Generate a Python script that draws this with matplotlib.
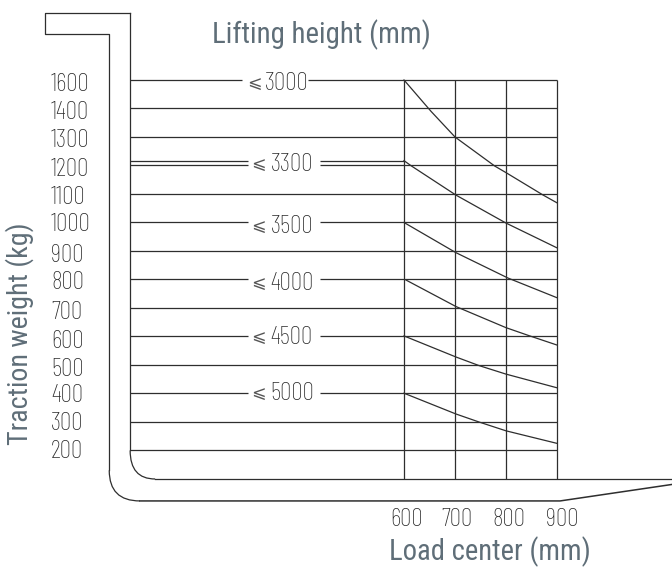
import numpy as np
import matplotlib
matplotlib.use('Agg')
import matplotlib.pyplot as plt
from matplotlib.path import Path
from matplotlib.patches import PathPatch

# weight levels are evenly spaced on the drawing, though the kg values are not
weights = [200, 300, 400, 500, 600, 700, 800, 900, 1000, 1100, 1200, 1300, 1400, 1600]
levels = np.arange(len(weights))
load_centers = [600, 700, 800, 900]

# capacity curves, lifting height -> load center / kg
curve_heights = ['3000', '3300', '3500', '4000', '4500', '5000']
curve_x = {
    '3000': [600, 653, 700, 778, 800, 873, 900],
    '3300': [600, 614, 702, 800, 900],
    '3500': [600, 702, 804, 900],
    '4000': [604, 702, 800, 845, 900],
    '4500': [600, 702, 747, 800, 900],
    '5000': [600, 702, 747, 800, 900],
}
curve_kg = {
    '3000': [1600, 1390, 1300, 1198, 1175, 1096, 1069],
    '3300': [1217, 1199, 1096, 998, 911],
    '3500': [1000, 894, 805, 736],
    '4000': [798, 705, 631, 603, 570],
    '4500': [602, 528, 498, 468, 420],
    '5000': [401, 328, 300, 269, 225],
}
# kg line each height label sits on, and the break in that line (mm)
label_kg = [1600, 1217, 1000, 800, 600, 400]
label_gap = [(282, 412), (294, 435), (294, 435), (294, 435), (294, 435), (294, 435)]

# fork outline, x in mm, y in levels
fork_outer_x = [63, -104, -104, 22, 22]
fork_outer_y = [15.35, 15.35, 14.61, 14.61, -0.70]
outer_arc_x = [22, 22, 82]
outer_arc_y = [-0.70, -1.77, -1.77]
fork_bottom_x = [82, 906, 1126]
fork_bottom_y = [-1.77, -1.77, -1.19]
inner_x = [63, 63]
inner_y = [15.35, 0.0]
inner_arc_x = [63, 63, 112]
inner_arc_y = [0.0, -1.0, -1.0]
fork_top_x = [112, 1126]
fork_top_y = [-1.0, -1.0]

LINE = '#2e2e2e'
TITLE = '#5f6e78'
LABEL = '#2a2a2a'
TITLE_FONT = ['Roboto Condensed', 'Liberation Sans', 'DejaVu Sans']
CAD_FONT = ['Barlow Condensed', 'Liberation Sans', 'DejaVu Sans']
# the hand placed labels on the drawing do not sit quite on their lines
weight_nudge = [0, 0, 1, 3, 4, 3, 2, 3, 1, 2, 3, 2, 3, 3.7]
height_nudge = [4, 4, 4, 4, 1, 0]
center_nudge = [-1, -1, 0, 2]
PX_X = 1 / 0.51
PX_Y = 1 / 28.5


def lvl(kg):
    return np.interp(kg, weights, levels)


fig = plt.figure(figsize=(6.72, 5.67), dpi=100)
ax = fig.add_axes([0, 0, 1, 1])
ax.set_xlim(-192.2, 1125.5)
ax.set_ylim(-4.088, 15.807)
ax.axis('off')

# load center verticals
ax.vlines(load_centers, -1.0, lvl(1600), color=LINE, lw=0.9)

# weight lines, broken where a height label sits
gap_by_kg = dict(zip(label_kg, label_gap))
gap_by_kg[1200] = gap_by_kg[1217]
for kg in weights:
    if kg in gap_by_kg:
        ax.hlines(lvl(kg), 63, gap_by_kg[kg][0], color=LINE, lw=0.9)
        ax.hlines(lvl(kg), gap_by_kg[kg][1], 900, color=LINE, lw=0.9)
    else:
        ax.hlines(lvl(kg), 63, 900, color=LINE, lw=0.9)
# the 3300 line stops at the 600 mm vertical
ax.hlines(lvl(1217), 63, gap_by_kg[1217][0], color=LINE, lw=0.9)
ax.hlines(lvl(1217), gap_by_kg[1217][1], 600, color=LINE, lw=0.9)

for h in curve_heights:
    ax.plot(curve_x[h], lvl(curve_kg[h]), color=LINE, lw=0.9)

# fork
ax.plot(fork_outer_x, fork_outer_y, color=LINE, lw=0.9)
ax.plot(inner_x, inner_y, color=LINE, lw=0.9)
ax.plot(fork_bottom_x, fork_bottom_y, color=LINE, lw=1.1)
ax.plot(fork_top_x, fork_top_y, color=LINE, lw=0.9)
for arc_x, arc_y in [(outer_arc_x, outer_arc_y), (inner_arc_x, inner_arc_y)]:
    arc = Path(np.column_stack([arc_x, arc_y]), [Path.MOVETO, Path.CURVE3, Path.CURVE3])
    ax.add_patch(PathPatch(arc, fc='none', ec=LINE, lw=0.9))

# labels
for kg, n in zip(weights, weight_nudge):
    ax.text(-92, lvl(kg) - 0.04 - n * PX_Y, str(kg), ha='left', va='center', fontsize=18.5,
            color=LABEL, family=CAD_FONT, fontweight=200)
for c, n in zip(load_centers, center_nudge):
    ax.text(c + 6 + n * PX_X, -2.43, str(c), ha='center', va='center', fontsize=18.5,
            color=LABEL, family=CAD_FONT, fontweight=200)
for i, (h, kg, n) in enumerate(zip(curve_heights, label_kg, height_nudge)):
    # the 3000 label sits a little further left than the rest
    x_digits = 371 if i == 0 else 380
    x_sign = 306 if i == 0 else 315
    y = lvl(kg) - n * PX_Y
    ax.text(x_digits, y, h, ha='center', va='center', fontsize=18.5,
            color=LABEL, family=CAD_FONT, fontweight=200)
    ax.text(x_sign, y + 0.03, '⩽', ha='center', va='center', fontsize=12.5,
            color='#555555', family='DejaVu Sans')

fig.text(321 / 672, 1 - 35 / 567, 'Lifting height (mm)', ha='center', va='center',
         fontsize=20.8, color=TITLE, family=TITLE_FONT)
fig.text(490 / 672, 1 - 552 / 567, 'Load center (mm)', ha='center', va='center',
         fontsize=20.6, color=TITLE, family=TITLE_FONT)
fig.text(20 / 672, 1 - 334 / 567, 'Traction weight (kg)', rotation=90, ha='center', va='center',
         fontsize=20.2, color=TITLE, family=TITLE_FONT)

fig.savefig('out.png', dpi=100)
